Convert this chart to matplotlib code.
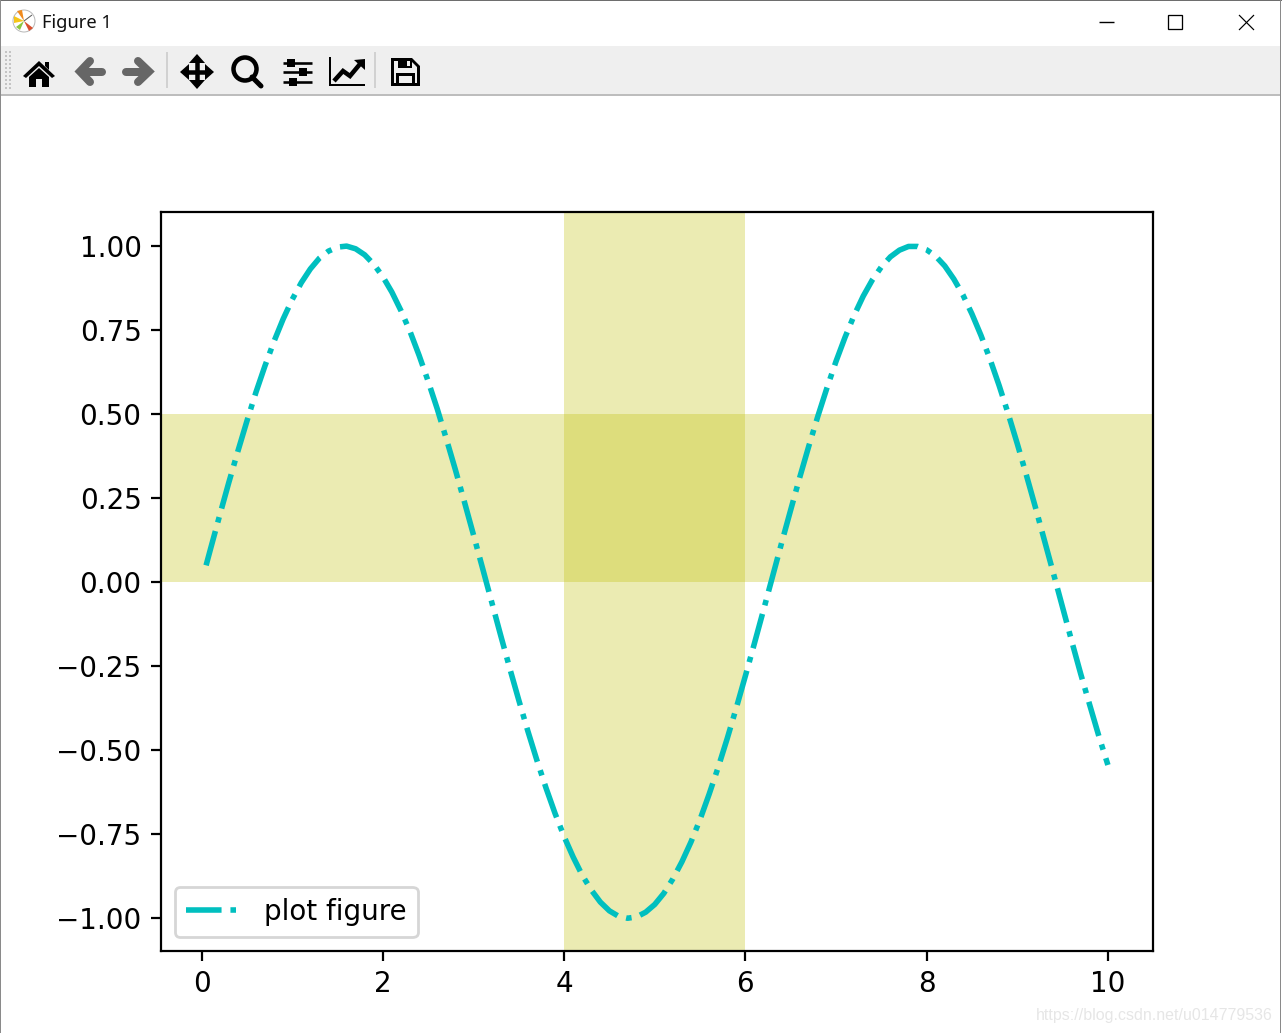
"""Janela do matplotlib com a senoide e as duas faixas amarelas."""
import matplotlib
matplotlib.use("Agg")
import matplotlib.pyplot as plt
from matplotlib.patches import Circle, Polygon, Rectangle

W, H, DPI = 1282, 1033, 200

# valores
x_vals = [0.05, 0.1, 0.2, 0.3, 0.4, 0.5, 0.6, 0.7, 0.8, 0.9, 1.0, 1.1, 1.2, 1.3,
          1.4, 1.5, 1.6, 1.7, 1.8, 1.9, 2.0, 2.1, 2.2, 2.3, 2.4, 2.5, 2.6, 2.7,
          2.8, 2.9, 3.0, 3.1, 3.2, 3.3, 3.4, 3.5, 3.6, 3.7, 3.8, 3.9, 4.0, 4.1,
          4.2, 4.3, 4.4, 4.5, 4.6, 4.7, 4.8, 4.9, 5.0, 5.1, 5.2, 5.3, 5.4, 5.5,
          5.6, 5.7, 5.8, 5.9, 6.0, 6.1, 6.2, 6.3, 6.4, 6.5, 6.6, 6.7, 6.8, 6.9,
          7.0, 7.1, 7.2, 7.3, 7.4, 7.5, 7.6, 7.7, 7.8, 7.9, 8.0, 8.1, 8.2, 8.3,
          8.4, 8.5, 8.6, 8.7, 8.8, 8.9, 9.0, 9.1, 9.2, 9.3, 9.4, 9.5, 9.6, 9.7,
          9.8, 9.9, 10.0]
y_vals = [0.05, 0.10, 0.199, 0.296, 0.389, 0.479, 0.565, 0.644, 0.717, 0.783,
          0.841, 0.891, 0.932, 0.964, 0.985, 0.997, 1.0, 0.992, 0.974, 0.946,
          0.909, 0.863, 0.808, 0.746, 0.675, 0.598, 0.516, 0.427, 0.335, 0.239,
          0.141, 0.042, -0.058, -0.158, -0.256, -0.351, -0.443, -0.530, -0.612,
          -0.688, -0.757, -0.818, -0.872, -0.916, -0.952, -0.978, -0.994, -1.0,
          -0.996, -0.982, -0.959, -0.926, -0.883, -0.832, -0.773, -0.706, -0.631,
          -0.551, -0.465, -0.374, -0.279, -0.182, -0.083, 0.017, 0.117, 0.215,
          0.312, 0.405, 0.494, 0.578, 0.657, 0.729, 0.794, 0.851, 0.899, 0.938,
          0.968, 0.988, 0.999, 0.999, 0.989, 0.970, 0.941, 0.902, 0.855, 0.798,
          0.734, 0.663, 0.585, 0.501, 0.412, 0.319, 0.223, 0.124, 0.025, -0.075,
          -0.175, -0.273, -0.366, -0.458, -0.544]
h_band = [0.0, 0.5]
v_band = [4.0, 6.0]
y_ticks = [-1.0, -0.75, -0.5, -0.25, 0.0, 0.25, 0.5, 0.75, 1.0]
legend_label = "plot figure"
window_title = "Figure 1"
watermark = "https://blog.csdn.net/u014779536"

BLACK = "#000000"
GRAY = "#666666"
BAR = "#efefef"
SEP = "#c8c8c8"


def px(n):
    # largura em pixels da imagem -> pontos
    return n * 72 / DPI


def stroke(ax, xs, ys, width, color=BLACK, cap="butt"):
    ax.plot(xs, ys, color=color, lw=px(width), solid_capstyle=cap,
            solid_joinstyle="miter")


def fill(ax, pts, color=BLACK):
    ax.add_patch(Polygon(pts, closed=True, fc=color, ec="none"))


def rect(ax, x0, y0, x1, y1, color=BLACK):
    ax.add_patch(Rectangle((x0, y0), x1 - x0, y1 - y0, fc=color, ec="none"))


fig = plt.figure(figsize=(W / DPI, H / DPI), dpi=DPI, facecolor="white")

# ── Moldura da janela ────────────────────────────────────────────────────────
ui = fig.add_axes([0, 0, 1, 1])
ui.set_xlim(0, W)
ui.set_ylim(H, 0)
ui.axis("off")

rect(ui, 0, 0, W, 1, "#6e6e6e")
rect(ui, 0, 0, 1, H, "#8a8a8a")
rect(ui, W - 2, 0, W - 1, H, "#8a8a8a")
rect(ui, 1, 46, W - 2, 94, BAR)
rect(ui, 1, 94, W - 2, 96, "#bdbdbd")

# ícone e título
ui.add_patch(Circle((24, 21), 11, fc="white", ec="#b8b8b8", lw=px(1)))
fill(ui, [(24, 21), (17, 11), (22, 10)], "#f08a1d")
fill(ui, [(24, 21), (14, 16), (14, 23)], "#f5c518")
fill(ui, [(24, 21), (33, 28), (29, 31)], "#d9502e")
fill(ui, [(24, 21), (20, 30), (16, 27)], "#8cc63f")
stroke(ui, [24, 32], [21, 15], 1, "#5a5a5a")
ui.text(42, 22.5, window_title, family="Noto Sans", fontsize=6.6, va="center",
        color="#111111")

# botões da janela
stroke(ui, [1099, 1114], [22, 22], 1.4)
ui.add_patch(Rectangle((1168, 15), 14, 14, fc="none", ec=BLACK, lw=px(1.3)))
stroke(ui, [1239, 1254], [15, 30], 1.2)
stroke(ui, [1239, 1254], [30, 15], 1.2)

# pega da barra e separadores
for gx in (5, 9):
    for gy in range(51, 91, 4):
        rect(ui, gx, gy, gx + 1.5, gy + 1.5, "#c4c4c4")
stroke(ui, [167, 167], [52, 88], 1.5, SEP)
stroke(ui, [375, 375], [52, 88], 1.5, SEP)

# casa
fill(ui, [(39, 61), (55, 76), (52, 78), (39, 66), (26, 78), (23, 76)])
fill(ui, [(45, 62), (49, 62), (49, 70), (45, 66)])
fill(ui, [(39, 68), (49, 77), (49, 87), (42, 87), (42, 79), (36, 79), (36, 87),
          (29, 87), (29, 77)])

# setas voltar / avançar
stroke(ui, [84, 102], [71.5, 71.5], 8, GRAY, "round")
stroke(ui, [90, 80, 90], [61, 71.5, 82], 8, GRAY, "round")
stroke(ui, [126, 148], [71.5, 71.5], 8, GRAY, "round")
stroke(ui, [138, 149, 138], [61, 71.5, 82], 8, GRAY, "round")

# mover
stroke(ui, [197, 197], [60, 85], 4.5)
stroke(ui, [184, 210], [72, 72], 4.5)
fill(ui, [(197, 54), (205, 63), (189, 63)])
fill(ui, [(197, 89), (205, 80), (189, 80)])
fill(ui, [(180, 72), (189, 64), (189, 80)])
fill(ui, [(214, 72), (205, 64), (205, 80)])

# zoom
ui.add_patch(Circle((245, 69), 11.5, fc="none", ec=BLACK, lw=px(4.5)))
stroke(ui, [252, 261], [77, 86], 5, BLACK, "round")

# ajustes
for sy, kx in [(63, 291), (72, 303), (82, 293)]:
    stroke(ui, [283, 312], [sy, sy], 2.6)
    rect(ui, kx - 4, sy - 4, kx + 4, sy + 4)

# editar eixos
stroke(ui, [329.5, 329.5, 365], [57, 85, 85], 2)
stroke(ui, [334, 343, 350, 360], [81, 71, 76, 64], 4.5)
fill(ui, [(365, 59), (365, 70), (354, 60)])

# salvar
fill(ui, [(391, 58), (412, 58), (420, 66), (420, 86), (391, 86)])
fill(ui, [(394, 61), (411, 61), (417, 67), (417, 83), (394, 83)], BAR)
rect(ui, 398, 59, 412, 68)
rect(ui, 407, 61, 410, 66, BAR)
rect(ui, 396, 73, 415, 85)
rect(ui, 399, 76, 412, 83, BAR)

ui.text(W - 9, 1015.5, watermark, family="Liberation Sans", fontsize=5.75,
        ha="right", va="center", color="#e6e6e6")

# ── Gráfico ──────────────────────────────────────────────────────────────────
ax = fig.add_axes([161 / W, (H - 951) / H, 992 / W, 739 / H])
ax.plot(x_vals, y_vals, color="c", ls="-.", lw=2, label=legend_label)
ax.axhspan(h_band[0], h_band[1], color="y", alpha=0.3, lw=0)
ax.axvspan(v_band[0], v_band[1], color="y", alpha=0.3, lw=0)
ax.set_xlim(-0.4475, 10.4975)
ax.set_ylim(-1.0975, 1.1015)
ax.set_yticks(y_ticks)
ax.legend(loc="lower left")

fig.savefig("out.png", dpi=DPI, facecolor="white")
